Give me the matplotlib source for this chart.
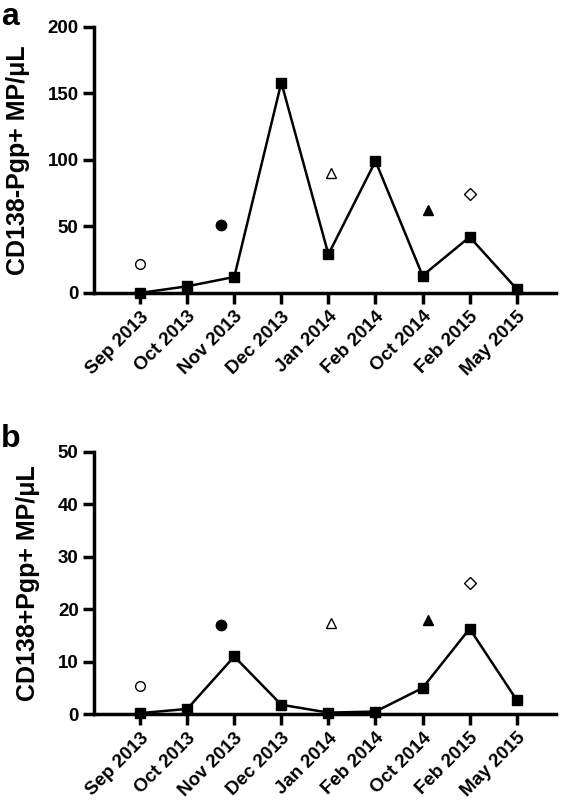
import numpy as np
import matplotlib
matplotlib.use("Agg")
import matplotlib.pyplot as plt

plt.rcParams["font.family"] = ["Liberation Sans", "DejaVu Sans"]
plt.rcParams["font.weight"] = "bold"

DATES = ["Sep 2013", "Oct 2013", "Nov 2013", "Dec 2013", "Jan 2014",
         "Feb 2014", "Oct 2014", "Feb 2015", "May 2015"]

# panel a: CD138-Pgp+ MP/uL
A_LINE = [0, 5, 12, 158, 29, 99, 13, 42, 3]
# panel b: CD138+Pgp+ MP/uL
B_LINE = [0.2, 1.0, 11.0, 1.8, 0.3, 0.5, 5.0, 16.3, 2.7]

# single points: (x position, marker, filled)
EXTRA_X = [0.0, 1.72, 4.05, 6.12, 7.0]
EXTRA_MARK = ["o", "o", "^", "^", "D"]
EXTRA_FILL = [False, True, False, True, False]
A_EXTRA = [22, 51, 90, 62, 74]
B_EXTRA = [5.3, 17, 17.3, 18, 25]


def panel(ax, line, extra, ymax, ystep, ylabel, label_x):
    x = np.arange(len(DATES))
    ax.plot(x, line, color="black", lw=1.8, marker="s", ms=6.5, zorder=3, clip_on=False)
    for xi, m, f, v in zip(EXTRA_X, EXTRA_MARK, EXTRA_FILL, extra):
        ms = {"o": 7.5 if f else 7, "^": 7.5, "D": 6.5}[m]
        ax.plot(xi, v, marker=m, ms=ms, mfc="black" if f else "white",
                mec="black", mew=1.0, ls="none", zorder=4)
    ax.set_xlim(-0.98, 8.83)
    ax.set_ylim(0, ymax)
    ax.set_yticks(np.arange(0, ymax + 1, ystep))
    ax.set_xticks(x)
    ax.set_xticklabels(DATES, rotation=45, ha="right", rotation_mode="anchor")
    for s in ("top", "right"):
        ax.spines[s].set_visible(False)
    for s in ("left", "bottom"):
        ax.spines[s].set_linewidth(2.5)
    ax.tick_params(width=2.5, length=8, labelsize=13.5, pad=3)
    ax.set_ylabel(ylabel, fontsize=18, fontweight="bold")
    ax.yaxis.set_label_coords(label_x, 0.5)


fig = plt.figure(figsize=(5.66, 8.07), dpi=100)
ax1 = fig.add_axes([0.166, 0.637, 0.816, 0.330])
ax2 = fig.add_axes([0.166, 0.115, 0.816, 0.325])
panel(ax1, A_LINE, A_EXTRA, 200, 50, "CD138-Pgp+ MP/μL", -0.138)
panel(ax2, B_LINE, B_EXTRA, 50, 10, "CD138+Pgp+ MP/μL", -0.117)

fig.text(0.002, 0.998, "a", fontsize=23, fontweight="bold", va="top", ha="left")
fig.text(0.002, 0.475, "b", fontsize=23, fontweight="bold", va="top", ha="left")

fig.savefig("out.png", dpi=100)
